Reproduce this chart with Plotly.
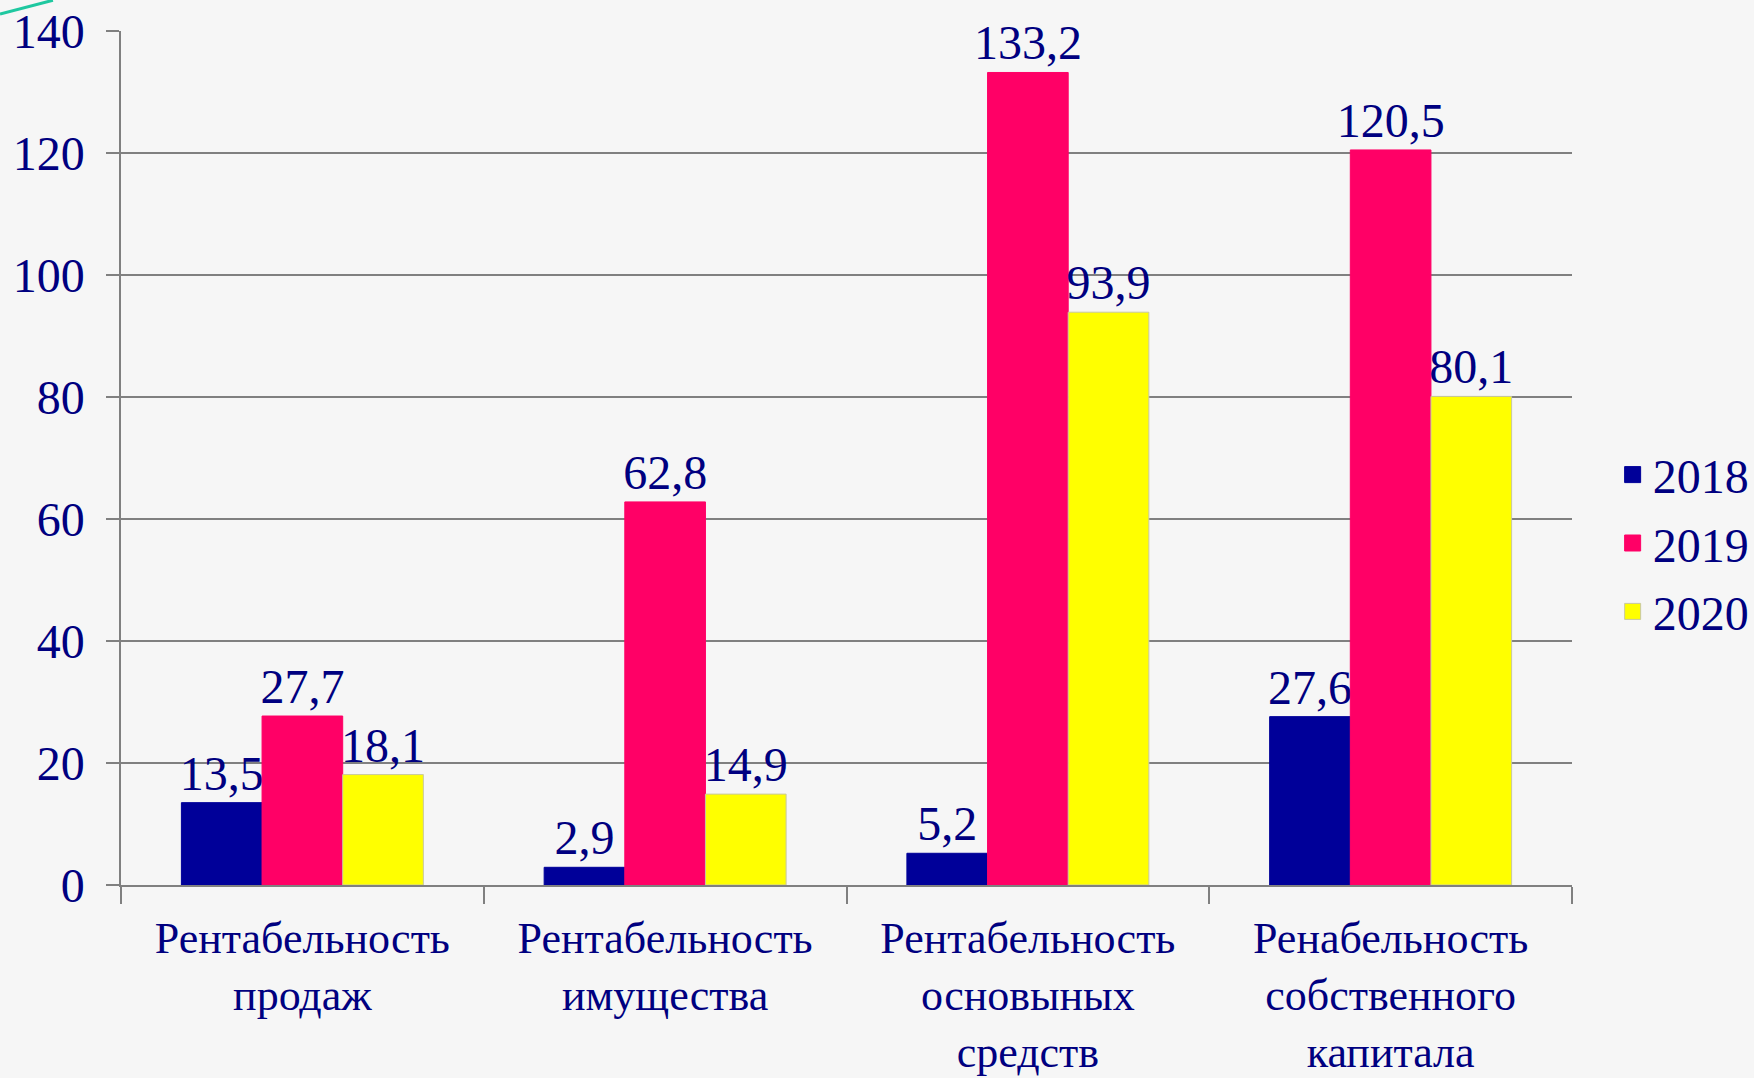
import plotly.graph_objects as go

categories = [
    "Рентабельность<br>продаж",
    "Рентабельность<br>имущества",
    "Рентабельность<br>основыных<br>средств",
    "Ренабельность<br>собственного<br>капитала",
]
years = ["2018", "2019", "2020"]
v2018 = [13.5, 2.9, 5.2, 27.6]
v2019 = [27.7, 62.8, 133.2, 120.5]
v2020 = [18.1, 14.9, 93.9, 80.1]
y_ticks = [0, 20, 40, 60, 80, 100, 120, 140]

colors = ["#000099", "#FF0066", "#FFFF00"]
line_colors = ["#000099", "#FF0066", "#C8C8A0"]
navy = "#000080"
font_family = "Liberation Serif"

fig = go.Figure()
for name, vals, c, lc in zip(years, [v2018, v2019, v2020], colors, line_colors):
    fig.add_trace(go.Bar(
        name=name, x=categories, y=vals,
        marker=dict(color=c, line=dict(color=lc, width=1)),
        text=[f"{v:.1f}".replace(".", ",") for v in vals],
        textposition="outside",
        textfont=dict(family=font_family, size=48, color=navy),
        constraintext="none",
        cliponaxis=False,
        showlegend=False,
    ))
# legend entries with larger square swatches
for name, c, lc in zip(years, colors, line_colors):
    fig.add_trace(go.Scatter(
        name=name, x=[None], y=[None], mode="markers",
        marker=dict(symbol="square", size=27, color=c, line=dict(color=lc, width=1)),
        legendgroup=name, showlegend=True,
    ))

fig.update_layout(
    width=1754, height=1078,
    margin=dict(l=121, r=182, t=31, b=193, autoexpand=False),
    paper_bgcolor="#f6f6f6", plot_bgcolor="#f6f6f6",
    barmode="group", bargap=0.333, bargroupgap=0,
    font=dict(family=font_family, size=48, color=navy),
    legend=dict(x=1.028, y=0.40, xanchor="left", yanchor="middle",
                font=dict(family=font_family, size=48, color=navy),
                bgcolor="rgba(0,0,0,0)", itemwidth=30, tracegroupgap=3),
    showlegend=True,
)
fig.update_yaxes(
    range=[0, 140], tickvals=y_ticks, showgrid=True, gridcolor="#808080", gridwidth=1.5,
    showline=True, linecolor="#808080", linewidth=1.5,
    ticks="outside", ticklen=13, tickcolor="#808080", tickwidth=1.5,
    ticklabelstandoff=12, zeroline=False, automargin=False,
    tickfont=dict(family=font_family, size=48, color=navy),
)
fig.update_xaxes(
    showline=True, linecolor="#808080", linewidth=1.5,
    ticks="outside", tickson="boundaries", ticklen=17, tickcolor="#808080", tickwidth=1.5,
    tickfont=dict(family=font_family, size=44, color=navy),
    ticklabelstandoff=13, automargin=False,
)
fig.add_shape(type="line", xref="paper", yref="paper",
              x0=-0.0834, y0=1.0199, x1=-0.0469, y1=1.036,
              line=dict(color="#1fc8a0", width=3))

fig.write_html(
    "out.html",
    config={"displayModeBar": False},
    post_script="document.body.style.margin='0';document.body.style.overflow='hidden';",
)
